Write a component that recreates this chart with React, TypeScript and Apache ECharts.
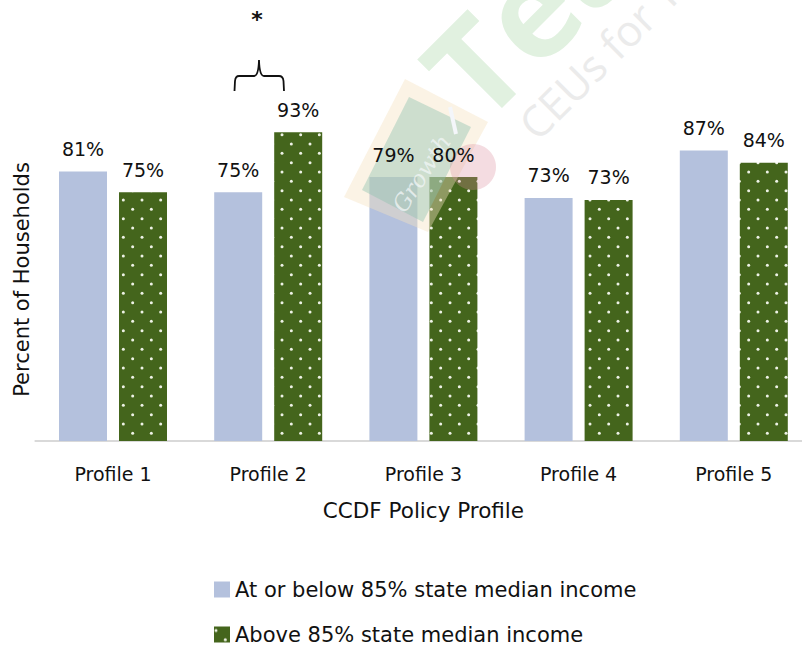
import React, { useEffect, useRef } from "react";
import * as echarts from "echarts";

const categories = ["Profile 1", "Profile 2", "Profile 3", "Profile 4", "Profile 5"];
const lowValues = [81.2, 74.9, 79.5, 73.2, 87.5];
const highValues = [74.9, 93, 79.5, 72.6, 83.8];
const lowLabels = ["81%", "75%", "79%", "73%", "87%"];
const highLabels = ["75%", "93%", "80%", "73%", "84%"];
const lowName = "At or below 85% state median income";
const highName = "Above 85% state median income";
const FONT = "'DejaVu Sans'";

function makeTile(): HTMLCanvasElement {
  const c = document.createElement("canvas");
  c.width = 56;
  c.height = 56;
  const g = c.getContext("2d")!;
  g.fillStyle = "#44651c";
  g.fillRect(0, 0, 56, 56);
  g.fillStyle = "#eef2e6";
  const step = 56 / 6;
  for (let r = 0; r < 6; r++) {
    for (let k = 0; k < 3; k++) {
      const x = (k * 56) / 3 + (r % 2 ? step : 0) + 2;
      const y = r * step + 4;
      g.beginPath();
      g.arc(x, y, 1.5, 0, Math.PI * 2);
      g.fill();
    }
  }
  return c;
}

export default function App() {
  const ref = useRef<HTMLDivElement>(null);
  useEffect(() => {
    if (!ref.current) return;
    echarts.graphic.registerShape(
      "brace",
      echarts.graphic.extendPath(
        "M234.5 91 L235 81 Q235.500 76 239 76 L254 76 Q258.500 76 259 60 Q259.500 76 264 76 L279 76 Q283 76 283.500 81 L284 91",
        {}
      )
    );
    const chart = echarts.init(ref.current, undefined, { renderer: "svg" });
    const tile = makeTile();
    const labelStyle = { show: true, position: "top" as const, distance: 13, fontSize: 19, fontFamily: FONT, color: "#111" };
    const gridBox = { left: 35.4, width: 776, top: 109, height: 332, outerBoundsMode: "none" };
    chart.setOption({
      animation: false,
      backgroundColor: "#fff",
      grid: [gridBox, gridBox],
      legend: {
        orient: "vertical",
        left: 214,
        top: 579,
        height: 100,
        padding: 0,
        icon: "rect",
        itemWidth: 16,
        itemHeight: 16,
        itemGap: 24,
        data: [lowName, highName],
        textStyle: { fontSize: 21, fontFamily: FONT, color: "#111" },
      },
      xAxis: [
        {
          type: "category",
          data: categories,
          name: "CCDF Policy Profile",
          nameLocation: "middle",
          nameGap: 58,
          nameTextStyle: { fontSize: 21.5, fontFamily: FONT, color: "#111" },
          axisTick: { show: false },
          axisLine: { lineStyle: { color: "#d9d9d9", width: 2 } },
          axisLabel: { fontSize: 19, fontFamily: FONT, color: "#111", margin: 23 },
        },
        { type: "category", data: categories, gridIndex: 1, show: false },
      ],
      yAxis: [
        {
          type: "value",
          min: 0,
          max: 100,
          name: "Percent of Households",
          nameLocation: "middle",
          nameGap: 3,
          nameTextStyle: { fontSize: 21, fontFamily: FONT, color: "#111", padding: [0, 9, 0, 0] },
          axisLabel: { show: false },
          axisLine: { show: false },
          axisTick: { show: false },
          splitLine: { show: false },
        },
        { type: "value", min: 0, max: 100, gridIndex: 1, show: false, splitLine: { show: false } },
      ],
      series: [
        { name: lowName, type: "bar", data: lowValues, barWidth: 48, barGap: "25%", itemStyle: { color: "#b4c1dd" } },
        { name: highName, type: "bar", data: highValues, barWidth: 48, itemStyle: { color: { image: tile, repeat: "repeat" } } },
        {
          name: "low labels", type: "bar", data: lowValues, barWidth: 48, barGap: "25%", xAxisIndex: 1, yAxisIndex: 1, z: 100, silent: true,
          itemStyle: { color: "transparent" },
          label: { ...labelStyle, formatter: (p: any) => lowLabels[p.dataIndex] },
        },
        {
          name: "high labels", type: "bar", data: highValues, barWidth: 48, xAxisIndex: 1, yAxisIndex: 1, z: 100, silent: true,
          itemStyle: { color: "transparent" },
          label: { ...labelStyle, formatter: (p: any) => highLabels[p.dataIndex] },
        },
      ],
      graphic: [
        { type: "text", x: 446, y: 92, rotation: Math.PI / 4, z: 0, silent: true,
          style: { text: "Tea", fontSize: 132, fontWeight: "bold", fontFamily: "'Open Sans'", fill: "#e1f1e0", textVerticalAlign: "middle" } },
        { type: "text", x: 526, y: 131, rotation: Math.PI / 4, z: 0, silent: true,
          style: { text: "CEUs for T", fontSize: 43, fontFamily: "'Open Sans'", fill: "#ebebeb", textVerticalAlign: "middle" } },
        { type: "polygon", z: 50, silent: true, shape: { points: [[405, 79], [488, 122], [428, 232], [344, 197]] }, style: { fill: "#f6e3c0", opacity: 0.42 } },
        { type: "polygon", z: 51, silent: true, shape: { points: [[409, 97], [471, 127], [423, 222], [362, 190]] }, style: { fill: "#8cc0ae", opacity: 0.42 } },
        { type: "circle", z: 52, silent: true, shape: { cx: 473, cy: 167, r: 23 }, style: { fill: "#d98a9c", opacity: 0.3 } },
        { type: "line", z: 53, silent: true, shape: { x1: 450, y1: 107, x2: 456, y2: 134 }, style: { stroke: "#f4f6fa", lineWidth: 4 } },
        { type: "text", x: 398, y: 210, rotation: (57 * Math.PI) / 180, z: 53, silent: true,
          style: { text: "Growth", fontSize: 23, fontStyle: "italic", fontFamily: "'DejaVu Serif'", fill: "#f2f6f7", opacity: 0.75, textVerticalAlign: "middle" } },
        { type: "brace", z: 60, silent: true, style: { fill: "none", stroke: "#111", lineWidth: 1.8 } },
        { type: "text", x: 257, y: 8, z: 60, silent: true,
          style: { text: "*", fontSize: 22, fontWeight: "bold", fontFamily: FONT, fill: "#111", textAlign: "center" } },
      ],
    });
    return () => chart.dispose();
  }, []);
  return <div ref={ref} style={{ position: "fixed", left: 0, top: 0, width: 802, height: 647 }} />;
}
